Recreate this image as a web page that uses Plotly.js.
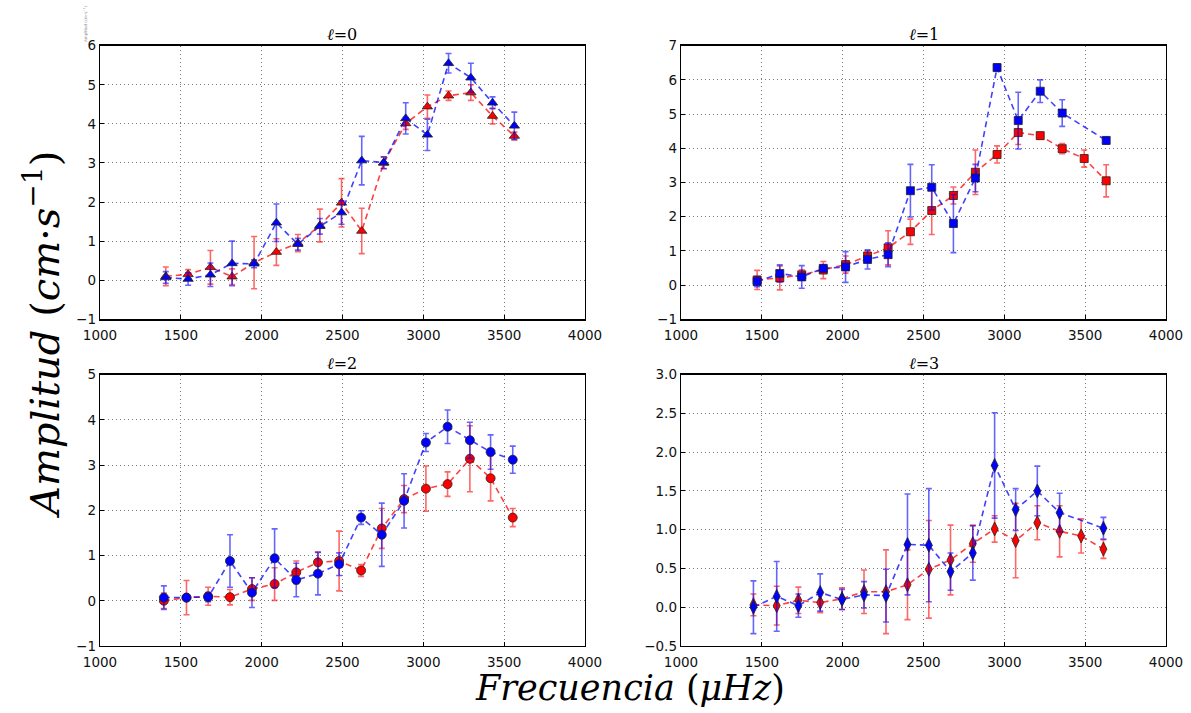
<!DOCTYPE html>
<html>
<head>
<meta charset="utf-8">
<script src="https://cdn.plot.ly/plotly-3.0.1.min.js"></script>
<style>html,body{margin:0;padding:0;background:#fff;}#chart{width:1191px;height:713px;}</style>
</head>
<body>
<div id="chart"></div>
<script>
// ---- data ----
const panelTitles = ["0", "1", "2", "3"];
const xTicks = [1000, 1500, 2000, 2500, 3000, 3500, 4000];

// l = 0
const freqL0 = [1407,1545,1683,1817,1953,2091,2224,2360,2494,2619,2755,2891,3025,3156,3294,3428,3563];
const redL0 = [0.10,0.15,0.33,0.09,0.45,0.72,0.95,1.40,1.98,1.26,3.00,4.01,4.44,4.72,4.80,4.20,3.69];
const redErrL0 = [0.24,0.12,0.43,0.20,0.67,0.34,0.22,0.42,0.62,0.58,0.15,0.15,0.30,0.12,0.20,0.20,0.10];
const blueL0 = [0.07,0.03,0.14,0.43,0.42,1.47,0.92,1.38,1.73,3.06,3.01,4.14,3.72,5.55,5.18,4.54,3.95];
const blueErrL0 = [0.15,0.16,0.30,0.57,0.10,0.48,0.15,0.20,0.30,0.62,0.15,0.40,0.40,0.25,0.37,0.15,0.35];

// l = 1
const freqRedL1 = [1471,1611,1747,1880,2018,2154,2281,2419,2551,2685,2821,2955,3086,3222,3358,3494,3630];
const redL1 = [0.15,0.21,0.30,0.44,0.60,0.85,1.09,1.56,2.18,2.62,3.30,3.82,4.46,4.37,3.99,3.70,3.05];
const redErrL1 = [0.28,0.35,0.15,0.25,0.25,0.15,0.50,0.37,0.70,0.25,0.65,0.25,0.35,0.10,0.15,0.25,0.47];
const freqBlueL1 = [1471,1611,1747,1880,2018,2154,2281,2419,2551,2685,2821,2955,3086,3222,3358,3630];
const blueL1 = [0.10,0.34,0.24,0.49,0.53,0.75,0.89,2.76,2.86,1.80,3.13,6.36,4.81,5.67,5.03,4.23];
const blueErrL1 = [0.15,0.25,0.33,0.10,0.45,0.28,0.35,0.77,0.66,0.85,0.40,0.10,0.83,0.33,0.39,0.10];

// l = 2
const freqL2 = [1395,1535,1669,1804,1940,2080,2214,2348,2479,2615,2743,2881,3016,3150,3288,3416,3553];
const redL2 = [0.00,0.07,0.10,0.08,0.26,0.37,0.63,0.85,0.88,0.67,1.60,2.25,2.48,2.58,3.14,2.71,1.84];
const redErrL2 = [0.17,0.38,0.20,0.17,0.25,0.36,0.25,0.23,0.66,0.13,0.44,0.30,0.50,0.27,0.73,0.50,0.20];
const blueL2 = [0.07,0.07,0.08,0.88,0.18,0.94,0.46,0.60,0.81,1.84,1.46,2.21,3.50,3.85,3.55,3.29,3.12];
const blueErrL2 = [0.26,0.05,0.10,0.58,0.33,0.65,0.37,0.47,0.25,0.15,0.70,0.60,0.20,0.37,0.40,0.38,0.30];

// l = 3
const freqRedL3 = [1448,1592,1726,1861,1996,2132,2268,2401,2533,2667,2805,2940,3070,3204,3342,3475,3613];
const redL3 = [0.03,0.02,0.09,0.06,0.11,0.20,0.20,0.29,0.49,0.61,0.82,1.01,0.86,1.09,0.98,0.92,0.75];
const redErrL3 = [0.14,0.25,0.17,0.13,0.14,0.28,0.54,0.45,0.63,0.45,0.24,0.17,0.48,0.22,0.33,0.22,0.12];
const freqBlueL3 = [1448,1592,1726,1861,1996,2132,2268,2401,2533,2667,2805,2940,3070,3204,3342,3613];
const blueL3 = [0.00,0.14,0.02,0.19,0.10,0.16,0.15,0.81,0.80,0.46,0.70,1.83,1.26,1.50,1.22,1.02];
const blueErrL3 = [0.34,0.45,0.15,0.24,0.13,0.17,0.34,0.65,0.73,0.24,0.35,0.68,0.27,0.32,0.25,0.14];

// ---- styling / construction ----
const RED = '#ff0000', BLUE = '#0000ff';
function series(x, y, err, color, symbol, size, ax) {
  const rgba = color === RED ? 'rgba(255,0,0,' : 'rgba(0,0,255,';
  return {
    x: x, y: y, type: 'scatter', mode: 'lines+markers',
    xaxis: 'x' + ax, yaxis: 'y' + ax,
    line: {color: rgba + '0.75)', width: 1.6, dash: '6px,4px'},
    marker: {color: color, symbol: symbol, size: size, line: {color: '#222', width: 0.8}},
    error_y: {type: 'data', array: err, visible: true, color: rgba + '0.6)', thickness: 1.6, width: 3},
    hoverinfo: 'x+y', showlegend: false
  };
}

const data = [
  series(freqL0, redL0, redErrL0, RED, 'triangle-up', 9, ''),
  series(freqL0, blueL0, blueErrL0, BLUE, 'triangle-up', 9, ''),
  series(freqRedL1, redL1, redErrL1, RED, 'square', 8, '2'),
  series(freqBlueL1, blueL1, blueErrL1, BLUE, 'square', 8, '2'),
  series(freqL2, redL2, redErrL2, RED, 'circle', 9, '3'),
  series(freqL2, blueL2, blueErrL2, BLUE, 'circle', 9, '3'),
  series(freqRedL3, redL3, redErrL3, RED, 'diamond-tall', 10, '4'),
  series(freqBlueL3, blueL3, blueErrL3, BLUE, 'diamond-tall', 10, '4')
];

const W = 1191, H = 713;
const colDom = [[100 / W, 585 / W], [681 / W, 1166 / W]];
const rowDom = [[1 - 319.3 / H, 1 - 45.7 / H], [1 - 646 / H, 1 - 374.7 / H]];

function xax(dom, anchor) {
  return {
    domain: dom, anchor: anchor, range: [1000, 4000], tickvals: xTicks,
    showline: true, mirror: true, linecolor: '#000', linewidth: 1.3,
    ticks: 'inside', ticklen: 4, tickcolor: '#000', ticklabelstandoff: 3,
    showgrid: true, gridcolor: '#777', griddash: '1px,3px', gridwidth: 1,
    zeroline: false, tickfont: {family: 'DejaVu Sans', size: 13.5, color: '#111'}
  };
}
function yax(dom, anchor, range, dtick, fmt) {
  return {
    domain: dom, anchor: anchor, range: range, dtick: dtick, tick0: range[0],
    tickformat: fmt,
    showline: true, mirror: true, linecolor: '#000', linewidth: 1.3,
    ticks: 'inside', ticklen: 4, tickcolor: '#000',
    showgrid: true, gridcolor: '#777', griddash: '1px,3px', gridwidth: 1,
    zeroline: false, tickfont: {family: 'DejaVu Sans', size: 13.5, color: '#111'}
  };
}

const titleAnn = [];
const doms = [[colDom[0], rowDom[0]], [colDom[1], rowDom[0]], [colDom[0], rowDom[1]], [colDom[1], rowDom[1]]];
doms.forEach((d, i) => {
  titleAnn.push({
    xref: 'paper', yref: 'paper', x: (d[0][0] + d[0][1]) / 2, y: d[1][1],
    xanchor: 'center', yanchor: 'bottom', yshift: 0, showarrow: false,
    text: '<i>ℓ</i>=' + panelTitles[i],
    font: {family: 'DejaVu Serif', size: 16, color: '#000'}
  });
});

const layout = {
  width: W, height: H,
  margin: {l: 0, r: 0, t: 0, b: 0},
  paper_bgcolor: '#fff', plot_bgcolor: '#fff', showlegend: false,
  xaxis: xax(colDom[0], 'y'), yaxis: yax(rowDom[0], 'x', [-1, 6], 1, 'd'),
  xaxis2: xax(colDom[1], 'y2'), yaxis2: yax(rowDom[0], 'x2', [-1, 7], 1, 'd'),
  xaxis3: xax(colDom[0], 'y3'), yaxis3: yax(rowDom[1], 'x3', [-1, 5], 1, 'd'),
  xaxis4: xax(colDom[1], 'y4'), yaxis4: yax(rowDom[1], 'x4', [-0.5, 3.0], 0.5, '.1f'),
  annotations: titleAnn.concat([
    {xref: 'paper', yref: 'paper', x: 42 / W, y: 1 - 335 / H, xanchor: 'center', yanchor: 'middle',
     showarrow: false, textangle: -90,
     text: '<i>Amplitud</i> (<i>cm</i>·<i>s</i><sup>−1</sup>)',
     font: {family: 'DejaVu Serif', size: 40, color: '#000'}},
    {xref: 'paper', yref: 'paper', x: 630 / W, y: 1 - 688 / H, xanchor: 'center', yanchor: 'middle',
     showarrow: false,
     text: '<i>Frecuencia</i> (<i>μHz</i>)',
     font: {family: 'DejaVu Serif', size: 35, color: '#000'}},
    {xref: 'paper', yref: 'paper', x: 85 / W, y: 1 - 24 / H, xanchor: 'center', yanchor: 'middle',
     showarrow: false, textangle: -90,
     text: 'Amplitud (cm·s<sup>−1</sup>)',
     font: {family: 'DejaVu Sans', size: 4, color: '#888'}}
  ])
};

Plotly.newPlot('chart', data, layout, {displayModeBar: false, staticPlot: true});
</script>
</body>
</html>
